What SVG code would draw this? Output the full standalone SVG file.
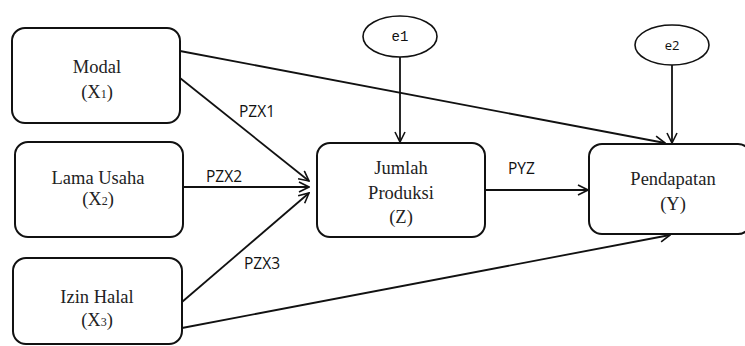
<svg xmlns="http://www.w3.org/2000/svg" width="745" height="346" viewBox="0 0 745 346">
<defs>
<marker id="arr" viewBox="0 0 12 12" refX="11" refY="6" markerWidth="12" markerHeight="12" markerUnits="userSpaceOnUse" orient="auto">
<path d="M1,1 L11,6 L1,11" fill="none" stroke="#111" stroke-width="1.6"/>
</marker>
<style>
.box{fill:#fff;stroke:#111;stroke-width:2}
.ell{fill:#fff;stroke:#111;stroke-width:1.6}
.t{font-family:"Liberation Serif","DejaVu Serif",serif;font-size:18.5px;fill:#222;text-anchor:middle}
.s{font-size:12px}
.lbl{font-family:"Open Sans","Liberation Sans",sans-serif;font-size:15.5px;fill:#111}
.mono{font-family:"Liberation Mono","DejaVu Sans Mono",monospace;font-size:14px;fill:#111;text-anchor:middle}
.sans{font-family:"Open Sans","Liberation Sans",sans-serif;font-size:13px;fill:#111;text-anchor:middle}
.c{fill:none;stroke:#111;stroke-width:1.8;marker-end:url(#arr)}
</style>
</defs>
<rect width="745" height="346" fill="#fff"/>
<g id="connectors">
<line class="c" x1="180" y1="51" x2="665" y2="143"/>
<line class="c" x1="180" y1="78" x2="309" y2="181"/>
<line class="c" x1="183" y1="187" x2="309" y2="187"/>
<line class="c" x1="182" y1="302" x2="309" y2="193"/>
<line class="c" x1="182" y1="328" x2="670" y2="235"/>
<line class="c" x1="485" y1="190" x2="588" y2="190"/>
<line class="c" x1="400" y1="57" x2="400" y2="142"/>
<line class="c" x1="672" y1="65" x2="672" y2="143"/>
<text class="lbl" x="239" y="117">PZX1</text>
<text class="lbl" x="206" y="182">PZX2</text>
<text class="lbl" x="244" y="269">PZX3</text>
<text class="lbl" x="508" y="174">PYZ</text>
</g>
<g id="modal">
<rect class="box" x="12" y="28" width="168" height="95" rx="13"/>
<text class="t" x="97" y="73">Modal</text>
<text class="t" x="97" y="98">(X<tspan class="s">1</tspan>)</text>
</g>
<g id="lama">
<rect class="box" x="15" y="142" width="168" height="95" rx="13"/>
<text class="t" x="98" y="184">Lama Usaha</text>
<text class="t" x="98" y="205">(X<tspan class="s">2</tspan>)</text>
</g>
<g id="izin">
<rect class="box" x="13" y="258" width="169" height="86" rx="13"/>
<text class="t" x="97" y="303">Izin Halal</text>
<text class="t" x="97" y="326">(X<tspan class="s">3</tspan>)</text>
</g>
<g id="jumlah">
<rect class="box" x="317" y="143" width="168" height="94" rx="13"/>
<text class="t" x="401" y="174">Jumlah</text>
<text class="t" x="401" y="199">Produksi</text>
<text class="t" x="401" y="223">(Z)</text>
</g>
<g id="pendapatan">
<rect class="box" x="589" y="144" width="162" height="90" rx="13"/>
<text class="t" x="673" y="185">Pendapatan</text>
<text class="t" x="673" y="210">(Y)</text>
</g>
<g id="e1">
<ellipse class="ell" cx="400" cy="36.5" rx="37" ry="20.5"/>
<text class="mono" x="400" y="41">e1</text>
</g>
<g id="e2">
<ellipse class="ell" cx="672" cy="45" rx="37" ry="20"/>
<text class="sans" x="672" y="50">e2</text>
</g>
</svg>
